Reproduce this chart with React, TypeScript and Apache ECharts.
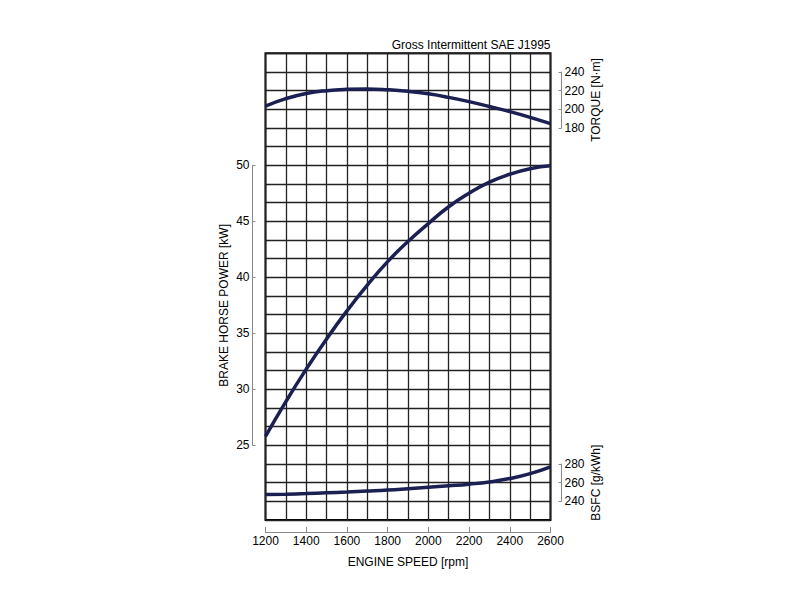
import React, { useEffect, useRef } from "react";
import * as echarts from "echarts";

// ---- data ----
const RPM = [1200, 1300, 1400, 1500, 1600, 1700, 1800, 1900, 2000, 2100, 2200, 2300, 2400, 2500, 2600];
const TORQUE = [203.5, 211.5, 217, 220, 221.4, 221.8, 221, 219.3, 216.6, 212.8, 208.2, 203, 197.5, 191.4, 184.6];
const POWER = [25.8, 28.9, 31.8, 34.5, 37.0, 39.3, 41.4, 43.2, 44.8, 46.3, 47.5, 48.5, 49.2, 49.7, 49.95];
const BSFC = [247.2, 247.7, 248.3, 249.1, 250, 251, 252.1, 253.5, 255, 256.6, 258.4, 260.8, 264.4, 269.7, 277];

const TITLE = "Gross Intermittent SAE J1995";
const X_NAME = "ENGINE SPEED [rpm]";
const POWER_NAME = "BRAKE HORSE POWER [kW]";
const TORQUE_NAME = "TORQUE [N·m]";
const BSFC_NAME = "BSFC [g/kWh]";

// ---- layout ----
const PLOT_LEFT = 265.5;
const PLOT_TOP = 53.3;
const PLOT_W = 285;
const PLOT_H = 466.7;
const ROWS = 25;
const ROW_H = PLOT_H / ROWS;
const rowY = (k: number) => PLOT_TOP + k * ROW_H;

const FONT = "'Liberation Sans', Arial, Helvetica, sans-serif";
const TEXT = "#000";
const CURVE = "#1b1f52";
const GRIDLINE = "#222";
const AXIS_GRAY = "#8a8a8a";

const zip = (ys: number[]) => RPM.map((x, i) => [x, ys[i]]);
const plain = (v: number) => String(v);

const subGrid = (fromRow: number, toRow: number) => ({
  left: PLOT_LEFT,
  width: PLOT_W,
  top: rowY(fromRow),
  height: rowY(toRow) - rowY(fromRow),
  show: false,
});

const hiddenX = (gridIndex: number) => ({
  type: "value",
  gridIndex,
  min: 1200,
  max: 2600,
  show: false,
});

const bracketAxis = (
  gridIndex: number,
  position: "left" | "right",
  min: number,
  max: number,
  interval: number,
  name: string,
  nameGap: number,
  offset: number
) => ({
  type: "value",
  gridIndex,
  position,
  offset,
  min,
  max,
  interval,
  name,
  nameLocation: "middle",
  nameGap,
  nameRotate: 90,
  nameTextStyle: { fontSize: 12, color: TEXT, fontFamily: FONT },
  axisLine: { show: true, lineStyle: { color: AXIS_GRAY, width: 1 } },
  axisTick: { show: true, inside: true, length: 3, lineStyle: { color: AXIS_GRAY } },
  axisLabel: { show: true, margin: 3, fontSize: 12, color: TEXT, fontFamily: FONT, formatter: plain },
  splitLine: { show: false },
});

export default function App() {
  const ref = useRef<HTMLDivElement>(null);

  useEffect(() => {
    if (!ref.current) return;
    const chart = echarts.init(ref.current, undefined, { renderer: "svg" });
    const lineSeries = (data: number[], xi: number, yi: number) => ({
      type: "line",
      xAxisIndex: xi,
      yAxisIndex: yi,
      data: zip(data),
      smooth: 0.5,
      showSymbol: false,
      clip: false,
      lineStyle: { color: CURVE, width: 3.5 },
      z: 5,
    });
    chart.setOption({
      animation: false,
      backgroundColor: "#fff",
      textStyle: { fontFamily: FONT },
      title: {
        text: TITLE,
        right: 800 - (PLOT_LEFT + PLOT_W),
        top: 39,
        padding: 0,
        textStyle: { fontSize: 12, fontWeight: "normal", color: TEXT, fontFamily: FONT },
      },
      grid: [
        {
          left: PLOT_LEFT,
          top: PLOT_TOP,
          width: PLOT_W,
          height: PLOT_H,
          show: true,
          borderColor: "#000",
          borderWidth: 2,
          backgroundColor: "transparent",
        },
        subGrid(1, 4),
        subGrid(6, 21),
        subGrid(22, 24),
      ],
      xAxis: [
        {
          type: "value",
          gridIndex: 0,
          min: 1200,
          max: 2600,
          interval: 100,
          axisLine: { show: false },
          axisTick: { show: false },
          axisLabel: { show: false },
          splitLine: { show: true, lineStyle: { color: GRIDLINE, width: 1.3 } },
        },
        {
          type: "value",
          gridIndex: 0,
          position: "bottom",
          offset: 12,
          min: 1200,
          max: 2600,
          interval: 200,
          name: X_NAME,
          nameLocation: "middle",
          nameGap: 24,
          nameTextStyle: { fontSize: 12, color: TEXT, fontFamily: FONT },
          axisLine: { show: true, lineStyle: { color: AXIS_GRAY, width: 1 } },
          axisTick: { show: true, inside: true, length: 5, lineStyle: { color: AXIS_GRAY } },
          axisLabel: { show: true, margin: 3, fontSize: 12, color: TEXT, fontFamily: FONT, formatter: plain },
          splitLine: { show: false },
        },
        hiddenX(1),
        hiddenX(2),
        hiddenX(3),
      ],
      yAxis: [
        {
          type: "value",
          gridIndex: 0,
          min: 0,
          max: ROWS,
          interval: 1,
          axisLine: { show: false },
          axisTick: { show: false },
          axisLabel: { show: false },
          splitLine: { show: true, lineStyle: { color: GRIDLINE, width: 1.3 } },
        },
        bracketAxis(1, "right", 180, 240, 20, TORQUE_NAME, 28, 11),
        bracketAxis(2, "left", 25, 50, 5, POWER_NAME, 23, 13),
        bracketAxis(3, "right", 240, 280, 20, BSFC_NAME, 28, 11),
      ],
      series: [
        lineSeries(TORQUE, 2, 1),
        lineSeries(POWER, 3, 2),
        lineSeries(BSFC, 4, 3),
      ],
    });
    return () => chart.dispose();
  }, []);

  return (
    <div
      ref={ref}
      style={{ position: "absolute", left: 0, top: 0, width: 800, height: 600, background: "#fff" }}
    />
  );
}
